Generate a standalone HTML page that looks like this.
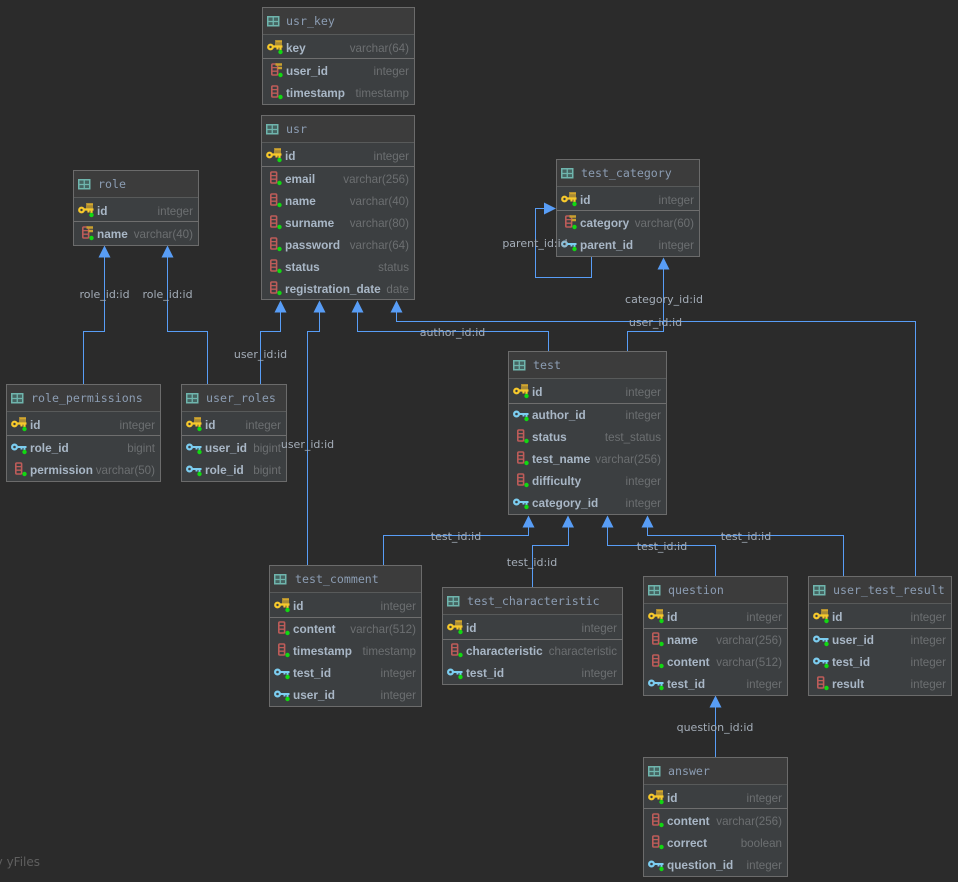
<!DOCTYPE html>
<html><head><meta charset="utf-8"><title>Diagram</title>
<style>
html,body{margin:0;padding:0;background:#2b2b2b;width:958px;height:882px;overflow:hidden}
svg{display:block}
.b{fill:#3c3f41;stroke:#6b6b6b}
.h{fill:#3c3c3c}
.hl{stroke:#585a5a;fill:none}
.dl{stroke:#6e6e6e;fill:none}
.t{font:11.6px "DejaVu Sans Mono",monospace;fill:#8c9db3}
.n{font:bold 11.8px "Liberation Sans",sans-serif;fill:#a9b7c6}
.y{font:11.6px "Liberation Sans",sans-serif;fill:#6c6f71;text-anchor:end}
.l{font:11px "DejaVu Sans",sans-serif;fill:#a4adb8;text-anchor:middle}
.e{stroke:#589df6;fill:none}
.a{fill:#589df6}
</style></head><body>
<svg xmlns="http://www.w3.org/2000/svg" width="958" height="882" viewBox="0 0 958 882">
<defs>
<g id="tb"><rect x="0.750" y="1.750" width="11" height="9" fill="#466461" stroke="#6fb5ad" stroke-width="1.500"/><path d="M6.250 2V10.500M1 6.500H11.500" stroke="#6fb5ad" stroke-width="1.300"/></g>
<g id="grn"><circle cx="13.500" cy="5" r="2.200" fill="#12d812"/></g>
<g id="pk"><rect x="8" y="-7" width="7" height="7" fill="#a88a35"/><path d="M9 -5.500H15" stroke="#d4a72c" stroke-width="1.500"/><circle cx="3.500" cy="0" r="2.300" fill="none" stroke="#f7c92c" stroke-width="2.200"/><path d="M5.500 -0.500H15.500M13.500 0V3M10.500 0V2.500" stroke="#f7c92c" stroke-width="2.200" fill="none"/><use href="#grn"/></g>
<g id="col"><rect x="4.800" y="-6" width="5.800" height="11" rx="1" fill="none" stroke="#bd5c59" stroke-width="1.600"/><path d="M5 -2.400H10.500M5 1.200H10.500" stroke="#bd5c59" stroke-width="1.300"/><use href="#grn"/></g>
<g id="fc"><rect x="4.800" y="-6" width="5.800" height="11" rx="1" fill="none" stroke="#bd5c59" stroke-width="1.600"/><path d="M5 -2.400H10.500M5 1.200H10.500" stroke="#bd5c59" stroke-width="1.300"/><path d="M8.500 -5.500H15M10.500 -2H15" stroke="#c9a02f" stroke-width="2.400"/><use href="#grn"/></g>
<g id="fk"><circle cx="3.500" cy="0" r="2.400" fill="none" stroke="#7ccdf0" stroke-width="2.200"/><path d="M5.500 0H15.500M13.500 0V3M10.500 0V2.500" stroke="#7ccdf0" stroke-width="2" fill="none"/><use href="#grn"/></g>
</defs>
<rect width="958" height="882" fill="#2b2b2b"/>

<!-- edges -->
<path class="e" d="M83.500 384V331.500H104.500V256"/>
<path class="e" d="M207.500 384V331.500H167.500V256"/>
<path class="e" d="M260.500 384V331.500H280.500V311"/>
<path class="e" d="M307.500 565V331.500H319.500V311"/>
<path class="e" d="M548.500 351V331.500H357.500V311"/>
<path class="e" d="M915.500 576V321.500H396.500V311"/>
<path class="e" d="M627.500 351V331.500H663.500V268"/>
<path class="e" d="M591.500 257V277.500H535.500V208.500H546"/>
<path class="e" d="M383.500 565V535.500H528.500V526"/>
<path class="e" d="M532.500 587V545.500H568.500V526"/>
<path class="e" d="M715.500 576V545.500H607.500V526"/>
<path class="e" d="M843.500 576V535.500H647.500V526"/>
<path class="e" d="M715.500 757V706"/>
<g class="a">
<path d="M104.500 245.500l6 12h-12z"/><path d="M167.500 245.500l6 12h-12z"/>
<path d="M280.500 300.500l6 12h-12z"/><path d="M319.500 300.500l6 12h-12z"/><path d="M357.500 300.500l6 12h-12z"/><path d="M396.500 300.500l6 12h-12z"/>
<path d="M663.500 257.500l6 12h-12z"/>
<path d="M556 208.500l-12 -6v12z"/>
<path d="M528.500 515.500l6 12h-12z"/><path d="M568 515.500l6 12h-12z"/><path d="M607.500 515.500l6 12h-12z"/><path d="M647.500 515.500l6 12h-12z"/>
<path d="M715.500 695.500l6 12h-12z"/>
</g>

<!-- usr_key -->
<rect class="b" x="262.500" y="7.500" width="152" height="97"/><rect class="h" x="263" y="8" width="151" height="26"/>
<path class="hl" d="M263 34.500H414"/><path class="dl" d="M263 58.500H414"/>
<use href="#tb" x="267" y="15"/><text class="t" x="286" y="25">usr_key</text>
<use href="#pk" x="267" y="47"/><text class="n" x="286" y="52">key</text><text class="y" x="409" y="52">varchar(64)</text>
<use href="#fc" x="267" y="70"/><text class="n" x="286" y="75">user_id</text><text class="y" x="409" y="75">integer</text>
<use href="#col" x="267" y="92"/><text class="n" x="286" y="97">timestamp</text><text class="y" x="409" y="97">timestamp</text>

<!-- usr -->
<rect class="b" x="261.500" y="115.500" width="153" height="184"/><rect class="h" x="262" y="116" width="152" height="26"/>
<path class="hl" d="M262 142.500H414"/><path class="dl" d="M262 166.500H414"/>
<use href="#tb" x="266" y="123"/><text class="t" x="286" y="133">usr</text>
<use href="#pk" x="266" y="155"/><text class="n" x="285" y="160">id</text><text class="y" x="409" y="160">integer</text>
<use href="#col" x="266" y="178"/><text class="n" x="285" y="183">email</text><text class="y" x="409" y="183">varchar(256)</text>
<use href="#col" x="266" y="200"/><text class="n" x="285" y="205">name</text><text class="y" x="409" y="205">varchar(40)</text>
<use href="#col" x="266" y="222"/><text class="n" x="285" y="227">surname</text><text class="y" x="409" y="227">varchar(80)</text>
<use href="#col" x="266" y="244"/><text class="n" x="285" y="249">password</text><text class="y" x="409" y="249">varchar(64)</text>
<use href="#col" x="266" y="266"/><text class="n" x="285" y="271">status</text><text class="y" x="409" y="271">status</text>
<use href="#col" x="266" y="288"/><text class="n" x="285" y="293">registration_date</text><text class="y" x="409" y="293">date</text>

<!-- role -->
<rect class="b" x="73.500" y="170.500" width="125" height="75"/><rect class="h" x="74" y="171" width="124" height="26"/>
<path class="hl" d="M74 197.500H198"/><path class="dl" d="M74 221.500H198"/>
<use href="#tb" x="78" y="178"/><text class="t" x="98" y="188">role</text>
<use href="#pk" x="78" y="210"/><text class="n" x="97" y="215">id</text><text class="y" x="193" y="215">integer</text>
<use href="#fc" x="78" y="233"/><text class="n" x="97" y="238">name</text><text class="y" x="193" y="238">varchar(40)</text>

<!-- test_category -->
<rect class="b" x="556.500" y="159.500" width="143" height="97"/><rect class="h" x="557" y="160" width="142" height="26"/>
<path class="hl" d="M557 186.500H699"/><path class="dl" d="M557 210.500H699"/>
<use href="#tb" x="561" y="167"/><text class="t" x="581" y="177">test_category</text>
<use href="#pk" x="561" y="199"/><text class="n" x="580" y="204">id</text><text class="y" x="694" y="204">integer</text>
<use href="#fc" x="561" y="222"/><text class="n" x="580" y="227">category</text><text class="y" x="694" y="227">varchar(60)</text>
<use href="#fk" x="561" y="244"/><text class="n" x="580" y="249">parent_id</text><text class="y" x="694" y="249">integer</text>

<!-- test -->
<rect class="b" x="508.500" y="351.500" width="158" height="163"/><rect class="h" x="509" y="352" width="157" height="26"/>
<path class="hl" d="M509 378.500H666"/><path class="dl" d="M509 403.500H666"/>
<use href="#tb" x="513" y="359"/><text class="t" x="533" y="369">test</text>
<use href="#pk" x="513" y="391"/><text class="n" x="532" y="396">id</text><text class="y" x="661" y="396">integer</text>
<use href="#fk" x="513" y="414"/><text class="n" x="532" y="419">author_id</text><text class="y" x="661" y="419">integer</text>
<use href="#col" x="513" y="436"/><text class="n" x="532" y="441">status</text><text class="y" x="661" y="441">test_status</text>
<use href="#col" x="513" y="458"/><text class="n" x="532" y="463">test_name</text><text class="y" x="661" y="463">varchar(256)</text>
<use href="#col" x="513" y="480"/><text class="n" x="532" y="485">difficulty</text><text class="y" x="661" y="485">integer</text>
<use href="#fk" x="513" y="502"/><text class="n" x="532" y="507">category_id</text><text class="y" x="661" y="507">integer</text>

<!-- role_permissions -->
<rect class="b" x="6.500" y="384.500" width="154" height="97"/><rect class="h" x="7" y="385" width="153" height="26"/>
<path class="hl" d="M7 411.500H160"/><path class="dl" d="M7 435.500H160"/>
<use href="#tb" x="11" y="392"/><text class="t" x="31" y="402">role_permissions</text>
<use href="#pk" x="11" y="424"/><text class="n" x="30" y="429">id</text><text class="y" x="155" y="429">integer</text>
<use href="#fk" x="11" y="447"/><text class="n" x="30" y="452">role_id</text><text class="y" x="155" y="452">bigint</text>
<use href="#col" x="11" y="469"/><text class="n" x="30" y="474">permission</text><text class="y" x="155" y="474">varchar(50)</text>

<!-- user_roles -->
<rect class="b" x="181.500" y="384.500" width="105" height="97"/><rect class="h" x="182" y="385" width="104" height="26"/>
<path class="hl" d="M182 411.500H286"/><path class="dl" d="M182 435.500H286"/>
<use href="#tb" x="186" y="392"/><text class="t" x="206" y="402">user_roles</text>
<use href="#pk" x="186" y="424"/><text class="n" x="205" y="429">id</text><text class="y" x="281" y="429">integer</text>
<use href="#fk" x="186" y="447"/><text class="n" x="205" y="452">user_id</text><text class="y" x="281" y="452">bigint</text>
<use href="#fk" x="186" y="469"/><text class="n" x="205" y="474">role_id</text><text class="y" x="281" y="474">bigint</text>

<!-- test_comment -->
<rect class="b" x="269.500" y="565.500" width="152" height="141"/><rect class="h" x="270" y="566" width="151" height="26"/>
<path class="hl" d="M270 592.500H421"/><path class="dl" d="M270 617.500H421"/>
<use href="#tb" x="274" y="573"/><text class="t" x="295" y="583">test_comment</text>
<use href="#pk" x="274" y="605"/><text class="n" x="293" y="610">id</text><text class="y" x="416" y="610">integer</text>
<use href="#col" x="274" y="628"/><text class="n" x="293" y="633">content</text><text class="y" x="416" y="633">varchar(512)</text>
<use href="#col" x="274" y="650"/><text class="n" x="293" y="655">timestamp</text><text class="y" x="416" y="655">timestamp</text>
<use href="#fk" x="274" y="672"/><text class="n" x="293" y="677">test_id</text><text class="y" x="416" y="677">integer</text>
<use href="#fk" x="274" y="694"/><text class="n" x="293" y="699">user_id</text><text class="y" x="416" y="699">integer</text>

<!-- test_characteristic -->
<rect class="b" x="442.500" y="587.500" width="180" height="97"/><rect class="h" x="443" y="588" width="179" height="26"/>
<path class="hl" d="M443 614.500H622"/><path class="dl" d="M443 639.500H622"/>
<use href="#tb" x="447" y="595"/><text class="t" x="467" y="605">test_characteristic</text>
<use href="#pk" x="447" y="627"/><text class="n" x="466" y="632">id</text><text class="y" x="617" y="632">integer</text>
<use href="#col" x="447" y="650"/><text class="n" x="466" y="655">characteristic</text><text class="y" x="617" y="655">characteristic</text>
<use href="#fk" x="447" y="672"/><text class="n" x="466" y="677">test_id</text><text class="y" x="617" y="677">integer</text>

<!-- question -->
<rect class="b" x="643.500" y="576.500" width="144" height="119"/><rect class="h" x="644" y="577" width="143" height="26"/>
<path class="hl" d="M644 603.500H787"/><path class="dl" d="M644 628.500H787"/>
<use href="#tb" x="648" y="584"/><text class="t" x="668" y="594">question</text>
<use href="#pk" x="648" y="616"/><text class="n" x="667" y="621">id</text><text class="y" x="782" y="621">integer</text>
<use href="#col" x="648" y="639"/><text class="n" x="667" y="644">name</text><text class="y" x="782" y="644">varchar(256)</text>
<use href="#col" x="648" y="661"/><text class="n" x="667" y="666">content</text><text class="y" x="782" y="666">varchar(512)</text>
<use href="#fk" x="648" y="683"/><text class="n" x="667" y="688">test_id</text><text class="y" x="782" y="688">integer</text>

<!-- user_test_result -->
<rect class="b" x="808.500" y="576.500" width="143" height="119"/><rect class="h" x="809" y="577" width="142" height="26"/>
<path class="hl" d="M809 603.500H951"/><path class="dl" d="M809 628.500H951"/>
<use href="#tb" x="813" y="584"/><text class="t" x="833" y="594">user_test_result</text>
<use href="#pk" x="813" y="616"/><text class="n" x="832" y="621">id</text><text class="y" x="946" y="621">integer</text>
<use href="#fk" x="813" y="639"/><text class="n" x="832" y="644">user_id</text><text class="y" x="946" y="644">integer</text>
<use href="#fk" x="813" y="661"/><text class="n" x="832" y="666">test_id</text><text class="y" x="946" y="666">integer</text>
<use href="#col" x="813" y="683"/><text class="n" x="832" y="688">result</text><text class="y" x="946" y="688">integer</text>

<!-- answer -->
<rect class="b" x="643.500" y="757.500" width="144" height="119"/><rect class="h" x="644" y="758" width="143" height="26"/>
<path class="hl" d="M644 784.500H787"/><path class="dl" d="M644 808.500H787"/>
<use href="#tb" x="648" y="765"/><text class="t" x="668" y="775">answer</text>
<use href="#pk" x="648" y="797"/><text class="n" x="667" y="802">id</text><text class="y" x="782" y="802">integer</text>
<use href="#col" x="648" y="820"/><text class="n" x="667" y="825">content</text><text class="y" x="782" y="825">varchar(256)</text>
<use href="#col" x="648" y="842"/><text class="n" x="667" y="847">correct</text><text class="y" x="782" y="847">boolean</text>
<use href="#fk" x="648" y="864"/><text class="n" x="667" y="869">question_id</text><text class="y" x="782" y="869">integer</text>

<!-- edge labels -->
<text class="l" x="104.500" y="298">role_id:id</text>
<text class="l" x="167.500" y="298">role_id:id</text>
<text class="l" x="260.500" y="358">user_id:id</text>
<text class="l" x="307.500" y="448">user_id:id</text>
<text class="l" x="452.500" y="336">author_id:id</text>
<text class="l" x="664" y="303">category_id:id</text>
<text class="l" x="655.500" y="326">user_id:id</text>
<text class="l" x="535" y="247">parent_id:id</text>
<text class="l" x="456" y="540">test_id:id</text>
<text class="l" x="532" y="566">test_id:id</text>
<text class="l" x="662" y="550">test_id:id</text>
<text class="l" x="746" y="540">test_id:id</text>
<text class="l" x="715" y="731">question_id:id</text>
<text x="40" y="866" text-anchor="end" style="font:12px 'DejaVu Sans',sans-serif;fill:#5f5f5f">by yFiles</text>
</svg>
</body></html>
